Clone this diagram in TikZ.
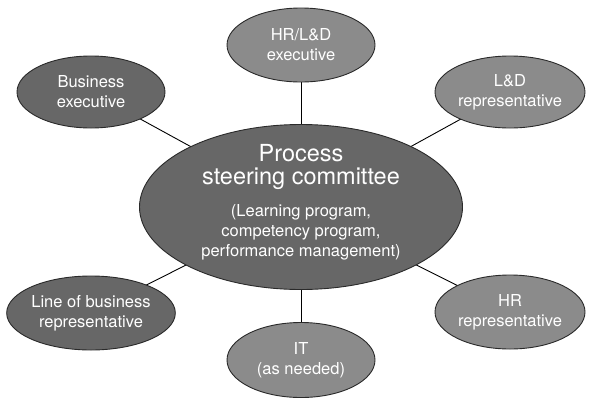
\documentclass[tikz,border=0pt]{standalone}
\usepackage{fontspec}
\setmainfont{TeX Gyre Heros}
\usetikzlibrary{shapes.geometric}
\definecolor{darkfill}{HTML}{676767}
\definecolor{lightfill}{HTML}{8B8B8B}
\definecolor{edgecol}{HTML}{2A2A2A}
\newcommand{\bigtxt}{\fontsize{23.5}{24}\selectfont}
\newcommand{\smalltxt}{\fontsize{16.5}{20}\selectfont}
\tikzset{
  bubble/.style={ellipse, draw=edgecol, line width=0.9pt, inner sep=0pt,
    minimum width=148pt, minimum height=72pt, text=white, align=center,
    font=\smalltxt},
  darkbubble/.style={bubble, fill=darkfill},
  lightbubble/.style={bubble, fill=lightfill},
  link/.style={draw=black, line width=0.9pt},
  bubbletext/.style={text=white, align=center, font=\smalltxt, inner sep=0pt}
}
\begin{document}
\begin{tikzpicture}[x=1pt,y=-1pt]
\useasboundingbox (0,0) rectangle (600,405);
\coordinate (cc) at (301,207);
\coordinate (cbe) at (91,92);
\coordinate (chr) at (301,45);
\coordinate (cld) at (510,92);
\coordinate (clb) at (91,313);
\coordinate (cit) at (301,360);
\coordinate (chrr) at (510,312);
\draw[link] (cc) -- (cbe);
\draw[link] (cc) -- (chr);
\draw[link] (cc) -- (cld);
\draw[link] (cc) -- (clb);
\draw[link] (cc) -- (cit);
\draw[link] (cc) -- (chrr);
\node[darkbubble, minimum width=323pt, minimum height=165pt] (center) at (cc) {};
\node[bubbletext] (centertext) at (301,202)
  {\bigtxt Process\\[3pt]\bigtxt steering committee\\[12pt]\smalltxt (Learning program,\\competency program,\\performance management)};
\node[darkbubble] (be) at (cbe) {Business\\executive};
\node[lightbubble, minimum height=74pt] (hr) at (chr) {HR/L\&D\\executive};
\node[lightbubble, minimum width=150pt] (ld) at (cld) {L\&D\\representative};
\node[darkbubble, minimum height=74pt] (lb) at (clb) {Line of business\\representative};
\node[lightbubble, minimum height=75pt] (it) at (cit) {IT\\(as needed)};
\node[lightbubble, minimum width=150pt, minimum height=74pt] (hrr) at (chrr) {HR\\representative};
\end{tikzpicture}
\end{document}
